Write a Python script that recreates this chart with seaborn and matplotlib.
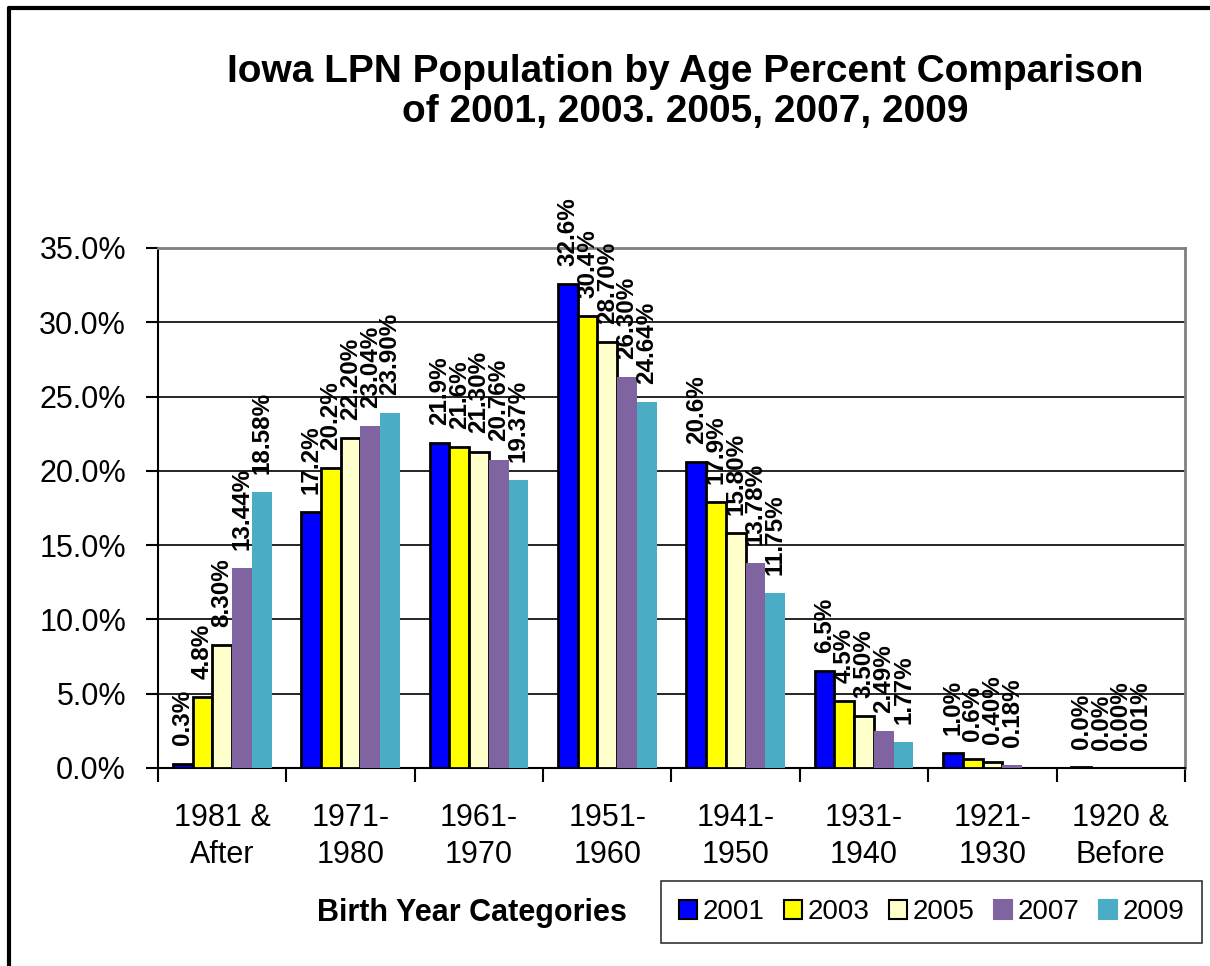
import numpy as np
import pandas as pd
import matplotlib.pyplot as plt
from matplotlib.lines import Line2D
from matplotlib.patches import Patch
import seaborn as sns

categories = ['1981 &\nAfter', '1971-\n1980', '1961-\n1970', '1951-\n1960',
              '1941-\n1950', '1931-\n1940', '1921-\n1930', '1920 &\nBefore']
years = ['2001', '2003', '2005', '2007', '2009']

v2001 = [0.3, 17.2, 21.9, 32.6, 20.6, 6.5, 1.0, 0.04]
v2003 = [4.8, 20.2, 21.6, 30.4, 17.9, 4.5, 0.6, 0.02]
v2005 = [8.30, 22.20, 21.30, 28.70, 15.80, 3.50, 0.40, 0.00]
v2007 = [13.44, 23.04, 20.76, 26.30, 13.78, 2.49, 0.18, 0.01]
v2009 = [18.58, 23.90, 19.37, 24.64, 11.75, 1.77, 0.0, 0.0]
# 2009 has no label in the last two groups
show2009 = [True, True, True, True, True, True, False, False]

colors = ['#0000FF', '#FFFF00', '#FFFFCC', '#8064A2', '#4BACC6']
edges = ['black', 'black', 'black', 'none', 'none']
decimals = [1, 1, 2, 2, 2]

series = [v2001, v2003, v2005, v2007, v2009]
df = pd.DataFrame({
    'cat': np.tile(categories, len(years)),
    'year': np.repeat(years, len(categories)),
    'val': np.concatenate(series),
})

sns.set_style('white')
plt.rcParams['font.family'] = ['Liberation Sans', 'DejaVu Sans']
plt.rcParams['text.color'] = 'black'
plt.rcParams['xtick.color'] = 'black'
plt.rcParams['ytick.color'] = 'black'

fig = plt.figure(figsize=(12.1, 9.66), dpi=100)
ax = fig.add_axes([0.1306, 0.205, 0.8487, 0.5383])

sns.barplot(data=df, x='cat', y='val', hue='year', order=categories,
            hue_order=years, palette=colors, width=0.77, saturation=1,
            legend=False, ax=ax)

for k, cont in enumerate(ax.containers):
    for p in cont.patches:
        p.set_edgecolor(edges[k])
        p.set_linewidth(2 if edges[k] != 'none' else 0)
        p.set_zorder(3)
    labels = [f'{v:.{decimals[k]}f}%' for v in series[k]]
    if k == 4:
        labels = [l if s else '' for l, s in zip(labels, show2009)]
    ax.bar_label(cont, labels=labels, rotation=90, padding=13,
                 fontsize=17.5, fontweight='bold', color='black')

ax.set_ylim(0, 35)
ax.set_xlim(-0.5, 7.5)
ax.set_yticks(np.arange(0, 36, 5))
ax.set_yticklabels([f'{t:.1f}%' for t in np.arange(0, 36, 5)], fontsize=22)
ax.yaxis.grid(True, color='black', linewidth=1.2)
ax.set_axisbelow(True)
ax.tick_params(axis='y', direction='out', length=9, width=1.5, left=True, pad=14)
ax.set_xticks(range(len(categories)))
ax.set_xticklabels(categories, fontsize=22, linespacing=1.3)
ax.set_xticks(np.arange(-0.5, 8, 1), minor=True)
ax.tick_params(axis='x', which='major', length=0, pad=25)
ax.tick_params(axis='x', which='minor', direction='out', length=10, width=1.5, bottom=True)
ax.set_xlabel('')
ax.set_ylabel('')
for s in ['left', 'bottom']:
    ax.spines[s].set_color('black')
    ax.spines[s].set_linewidth(1.5)
for s in ['top', 'right']:
    ax.spines[s].set_color('#808080')
    ax.spines[s].set_linewidth(2)

fig.text(0.566, 0.905, 'Iowa LPN Population by Age Percent Comparison\nof 2001, 2003. 2005, 2007, 2009',
         ha='center', va='center', fontsize=28, fontweight='bold', linespacing=1.15)
fig.text(0.39, 0.055, 'Birth Year Categories', ha='center', va='center',
         fontsize=22, fontweight='bold')

handles = [Patch(facecolor=c, edgecolor=(e if e != 'none' else c), linewidth=1.5)
           for c, e in zip(colors, edges)]
leg = fig.legend(handles, years, loc='center', bbox_to_anchor=(0.77, 0.0555),
                 ncol=5, fontsize=20, frameon=True, fancybox=False,
                 handlelength=0.65, handleheight=0.65, handletextpad=0.2,
                 columnspacing=0.7, borderpad=0.65)
leg.get_frame().set_edgecolor('black')
leg.get_frame().set_linewidth(1.2)

# outer chart frame (left and top edges visible)
fig.add_artist(Line2D([9 / 1210, 9 / 1210], [0, 1 - 8 / 966], color='black', linewidth=3))
fig.add_artist(Line2D([9 / 1210, 1], [1 - 8 / 966, 1 - 8 / 966], color='black', linewidth=3))

fig.savefig('out.png', dpi=100)
